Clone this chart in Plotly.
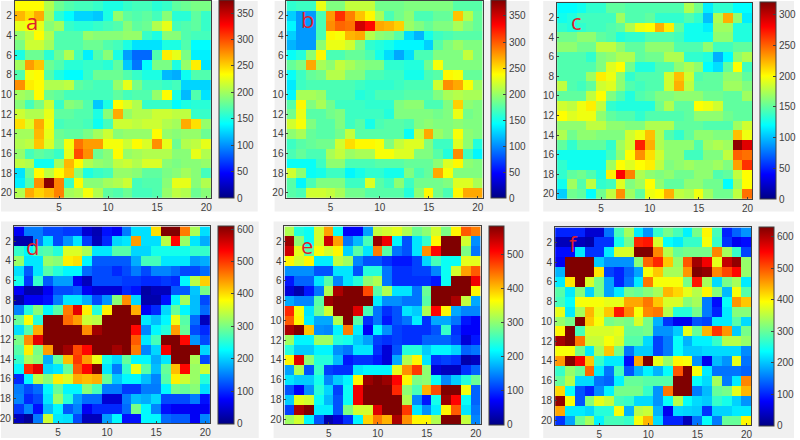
import plotly.graph_objects as go

W, H = 800, 440

panel_a = [
[235,235,235,205,180,170,165,165,160,150,150,160,165,165,155,160,175,180,185,185],
[260,245,265,200,155,140,125,125,120,150,195,175,170,175,165,190,155,155,175,160],
[225,230,225,190,200,160,155,155,160,165,170,190,175,180,205,225,165,170,175,160],
[195,210,235,205,170,170,170,195,190,190,190,195,195,160,150,190,190,170,165,165],
[185,215,215,200,170,170,170,180,180,170,165,150,130,130,130,150,150,170,140,140],
[150,180,180,155,180,205,165,135,170,190,150,105,85,85,170,240,225,185,135,135],
[200,270,255,180,170,155,155,160,160,155,175,120,90,140,185,185,150,195,240,130],
[170,230,235,170,150,140,140,160,180,180,180,170,160,150,150,115,110,145,170,170],
[275,240,235,205,205,210,175,170,165,165,195,225,185,165,165,160,165,125,125,125],
[200,195,235,180,175,165,165,165,165,165,175,165,170,170,195,235,150,115,170,130],
[190,165,185,215,160,190,185,170,120,150,235,220,205,160,160,160,140,150,155,155],
[215,205,205,225,175,175,170,170,150,190,265,195,205,205,215,215,210,210,160,160],
[245,220,265,230,165,170,170,165,145,165,215,215,210,215,215,205,200,265,245,195],
[200,200,260,225,180,175,175,185,200,215,190,195,195,195,235,195,190,195,195,180],
[205,210,255,220,185,230,285,270,270,230,230,215,235,220,275,225,180,205,210,225],
[195,165,175,170,160,225,300,275,180,190,235,195,200,205,205,205,190,190,225,205],
[210,205,145,145,200,260,235,205,195,190,210,215,205,220,220,190,185,190,190,195],
[130,180,235,210,235,255,190,150,160,165,195,195,190,175,175,185,190,200,190,165],
[135,170,275,370,280,160,235,190,190,200,205,215,165,170,170,190,225,225,190,205],
[205,265,250,260,280,200,205,230,205,175,170,180,165,165,170,195,210,205,180,190],
]
panel_b = [
[160,165,165,230,190,190,215,215,215,185,185,185,190,190,190,190,190,175,175,175],
[125,105,105,170,275,315,285,260,240,205,170,185,195,170,170,180,180,260,210,180],
[140,105,105,170,280,295,290,350,330,270,265,255,200,190,180,190,190,205,190,180],
[125,105,105,170,240,235,265,270,210,195,190,175,130,115,150,165,170,175,175,175],
[115,105,105,195,230,230,220,190,160,155,150,140,140,140,125,175,190,200,190,190],
[145,155,195,240,170,170,180,180,170,150,130,110,130,170,170,190,190,190,215,190],
[180,190,270,205,195,215,205,195,190,190,160,160,155,155,185,235,190,190,190,190],
[145,165,180,185,210,210,190,190,170,170,165,165,150,150,170,175,240,235,180,180],
[135,165,170,170,170,170,170,165,160,160,160,165,170,170,170,220,280,270,235,200],
[140,205,205,200,170,170,170,155,160,170,170,170,175,175,175,190,205,210,205,205],
[175,240,190,205,185,165,165,165,160,160,160,190,195,195,170,170,190,255,195,190],
[185,230,175,175,185,190,165,165,165,165,155,190,190,190,190,185,190,230,185,190],
[220,235,190,175,175,190,165,175,150,170,175,175,170,190,195,190,190,195,190,190],
[195,205,180,175,175,185,215,175,175,175,175,175,145,215,270,200,190,235,195,190],
[165,175,180,185,185,220,250,240,240,235,190,215,225,225,190,165,165,225,195,155],
[170,180,170,170,205,215,200,205,205,235,235,225,225,190,190,175,155,280,165,140],
[145,145,145,165,195,195,170,170,170,175,175,175,180,180,180,195,225,240,195,190],
[220,195,145,150,165,165,140,150,160,160,150,150,190,170,180,270,235,190,190,190],
[175,140,170,190,190,190,165,165,225,175,165,195,165,185,185,185,190,225,225,205],
[175,170,220,220,215,205,185,185,175,175,175,175,155,195,240,185,170,240,270,270],
]
panel_c = [
[120,120,125,135,135,150,150,145,145,145,145,145,145,175,155,115,135,135,120,120],
[125,130,140,140,140,140,170,145,145,150,135,135,135,145,135,100,175,225,165,115],
[135,130,135,140,140,145,150,175,195,200,225,205,150,125,125,115,170,170,130,130],
[155,155,165,165,150,145,130,135,135,145,145,145,140,125,125,125,165,165,130,130],
[165,165,155,155,180,180,165,150,150,165,165,165,145,145,145,165,140,140,150,150],
[145,145,145,135,160,165,175,175,150,155,155,175,175,135,135,130,95,120,165,175],
[145,145,145,145,160,190,200,155,130,130,145,145,165,175,165,120,110,150,200,140],
[145,145,145,170,205,195,165,135,145,145,145,185,220,185,145,150,150,165,165,150],
[180,145,140,150,185,190,165,145,140,145,145,185,225,180,150,150,150,170,170,160],
[150,150,150,180,200,160,145,130,145,150,160,160,165,165,165,155,155,150,150,170],
[185,180,195,205,180,135,130,130,130,130,155,175,150,150,200,195,185,150,150,150],
[200,190,195,195,165,150,145,145,135,145,145,145,145,150,165,165,165,155,150,150],
[165,165,165,180,180,165,165,160,160,175,175,175,150,150,150,145,145,145,170,185],
[175,155,165,165,160,160,160,185,195,220,175,145,135,150,165,165,160,160,220,195],
[150,135,150,150,150,135,170,185,270,225,175,165,165,165,145,170,175,170,315,290],
[125,125,125,125,125,140,165,200,235,210,185,165,165,140,140,160,160,180,250,245],
[135,125,125,125,125,170,200,190,200,205,180,160,165,170,165,165,170,160,230,265],
[135,150,155,145,130,205,280,240,175,165,160,165,155,155,165,165,145,150,180,200],
[125,170,145,180,135,140,190,160,170,200,165,150,150,165,165,155,155,120,170,200],
[105,155,150,120,155,180,235,170,150,195,200,225,180,175,195,170,155,155,180,245],
]
panel_d = [
[70,150,150,120,120,110,110,50,30,85,70,150,210,210,400,610,610,460,330,210],
[25,25,150,215,120,165,215,110,35,100,205,215,440,210,210,340,530,320,215,180],
[260,225,270,280,250,360,360,330,215,215,280,280,205,205,240,240,240,240,260,260],
[320,215,215,320,310,390,400,225,130,130,130,130,180,270,270,215,215,215,170,180],
[210,130,215,280,250,225,225,140,120,120,100,120,150,120,155,155,140,120,120,140],
[240,110,260,130,170,170,70,35,120,120,120,110,110,100,100,110,100,225,340,410],
[70,25,25,70,120,120,130,70,50,50,50,100,85,20,35,35,130,130,195,300],
[25,70,70,85,150,215,215,180,120,165,310,450,205,25,25,85,225,330,190,120],
[155,250,310,225,280,460,550,390,250,390,610,610,430,70,100,205,290,225,190,140],
[290,380,250,610,610,470,440,350,340,610,610,610,610,215,190,225,370,280,140,35],
[210,280,430,610,610,610,610,450,590,610,610,610,530,155,225,250,440,290,120,100],
[300,450,550,610,610,610,610,610,610,610,610,610,480,215,270,610,610,530,165,120],
[280,390,300,440,610,590,490,530,610,610,590,610,460,155,205,540,610,610,610,205],
[260,330,310,180,290,420,500,440,370,240,205,290,225,225,180,215,610,610,330,120],
[225,510,550,205,215,290,480,530,610,215,150,260,370,280,190,290,420,530,320,350],
[100,225,340,310,390,360,430,420,430,290,195,225,225,190,155,280,390,350,320,250],
[150,120,140,225,290,225,225,310,270,150,150,110,110,150,150,225,300,290,310,210],
[155,100,120,215,320,250,170,140,140,50,50,150,190,180,205,120,120,120,150,85],
[110,155,85,190,225,130,155,70,100,100,100,140,300,225,155,85,70,70,70,70],
[35,15,150,350,215,210,120,35,35,170,225,85,85,225,225,140,130,130,70,155],
]
panel_e = [
[320,240,225,340,420,225,70,70,165,330,340,350,320,280,300,340,290,370,460,440],
[570,300,225,340,540,420,140,180,260,570,520,215,120,205,250,370,585,585,340,155],
[540,350,270,360,340,370,195,270,205,440,270,140,120,205,430,510,585,585,290,140],
[370,340,370,210,210,330,310,150,120,120,100,85,85,110,195,260,225,225,350,350],
[155,155,155,120,120,205,205,120,240,240,140,100,100,110,110,150,225,340,420,460],
[85,130,130,205,270,150,205,240,300,320,140,100,100,100,100,85,225,585,585,520],
[50,25,85,140,320,560,585,585,470,270,320,205,205,140,280,585,585,585,585,370],
[170,150,150,270,570,585,585,585,585,210,155,155,140,140,270,585,585,560,330,170],
[490,360,205,280,340,585,585,530,260,140,100,120,205,190,320,510,370,170,150,150],
[460,370,210,170,170,320,585,270,100,140,85,120,140,210,100,170,170,140,85,70],
[560,585,400,155,150,215,440,210,70,215,155,110,100,100,100,120,250,100,70,70],
[310,215,215,310,310,240,230,190,165,110,100,110,100,100,130,130,130,110,50,85],
[240,190,190,215,215,155,140,205,205,100,50,120,240,240,190,215,215,195,130,140],
[370,530,300,240,240,180,85,100,100,85,50,170,320,370,205,100,110,100,25,35],
[165,320,120,250,110,100,100,205,215,215,215,350,430,480,300,50,35,35,100,130],
[205,190,190,230,150,190,215,370,570,585,570,510,370,290,300,225,150,190,240,280],
[120,70,155,240,195,110,225,520,585,585,585,490,300,260,410,470,585,585,360,130],
[190,350,340,225,180,120,225,520,585,585,585,585,320,150,85,230,570,510,225,130],
[110,560,585,210,210,120,290,340,340,530,585,585,480,205,155,210,370,460,205,140],
[310,340,215,120,25,50,100,215,390,440,410,560,430,370,370,320,585,585,330,150],
]
panel_f = [
[100,100,100,50,50,150,280,340,225,170,270,310,280,230,310,400,280,100,140,170],
[35,35,35,25,110,110,250,310,530,540,370,240,225,270,270,390,270,110,70,85],
[85,85,225,110,110,225,370,370,632,632,470,350,300,310,310,310,470,340,270,120],
[70,632,632,632,205,170,170,170,320,490,530,430,330,500,610,560,380,590,620,330],
[190,632,632,632,410,120,100,140,180,390,430,340,340,460,632,620,470,510,550,330],
[225,410,632,370,310,180,100,150,225,480,390,390,390,310,540,340,215,310,340,225],
[290,225,320,210,310,180,225,310,300,320,340,440,420,380,350,400,320,195,390,290],
[280,240,390,390,390,380,380,450,450,480,430,370,370,320,340,155,85,240,460,430],
[380,225,340,440,380,430,540,470,390,470,480,350,260,260,310,155,100,225,320,320],
[330,310,632,430,390,310,320,310,370,310,190,110,70,70,130,120,225,225,290,215],
[400,632,280,370,370,370,380,300,300,310,170,170,205,380,300,440,520,460,205,310],
[610,632,480,360,360,390,370,290,290,215,120,155,240,190,230,230,270,350,350,330],
[390,390,310,225,340,430,310,150,205,205,120,155,240,205,205,215,215,215,215,165],
[460,632,560,430,270,225,225,85,450,632,380,330,400,390,170,70,195,170,380,150],
[270,330,300,490,225,150,280,130,190,230,190,240,500,632,390,225,150,150,150,140],
[300,350,215,215,150,140,230,300,300,290,290,290,632,632,240,215,340,155,225,470],
[420,240,130,100,165,230,310,310,310,270,170,480,632,632,155,195,300,310,380,440],
[620,390,130,320,380,360,280,270,215,215,170,240,350,240,215,205,270,250,210,170],
[450,225,225,215,260,260,390,190,350,360,190,70,215,210,205,110,210,210,225,225],
[110,180,300,340,230,280,280,270,390,440,215,100,100,35,150,240,155,300,300,400],
]

cells = list(range(1, 21))
x_ticks = [5, 10, 15, 20]
y_ticks = list(range(2, 21, 2))

jet = [[0, "rgb(0,0,131)"], [0.125, "rgb(0,0,255)"], [0.375, "rgb(0,255,255)"],
       [0.625, "rgb(255,255,0)"], [0.875, "rgb(255,0,0)"], [1, "rgb(128,0,0)"]]

# label, data, zmax, colorbar ticks, plot box px (x0,x1,y0,y1), bar x0,x1, grey box, label pos
panels = [
 ("a", panel_a, 374, list(range(0, 351, 50)), (14, 212, 0, 198), (220, 235), (0, 259, 0, 212), (31, 20)),
 ("b", panel_b, 380, list(range(0, 351, 50)), (288, 486, 0, 198), (494, 509), (276, 533, 0, 212), (309, 18)),
 ("c", panel_c, 320, list(range(0, 301, 50)), (561, 758, 2, 199), (766, 782), (547, 800, 0, 212), (581, 20)),
 ("d", panel_d, 610, list(range(0, 601, 100)), (13, 211, 227, 425), (219, 235), (0, 260, 222, 440), (32, 247)),
 ("e", panel_e, 585, list(range(0, 501, 100)), (286, 484, 227, 426), (492, 507), (275, 533, 222, 440), (309, 246)),
 ("f", panel_f, 632, list(range(0, 601, 100)), (559, 757, 228, 427), (765, 780), (547, 800, 222, 440), (578, 244)),
]

fig = go.Figure()
shapes, annotations, axes = [], [], {}
font = dict(family="Liberation Sans, Arial, sans-serif", size=10, color="#404040")

for i, (name, data, zmax, cticks, box, bar, grey, lab) in enumerate(panels, start=1):
    x0, x1, y0, y1 = box
    fig.add_trace(go.Heatmap(
        z=data, x=cells, y=cells, zmin=0, zmax=zmax, colorscale=jet,
        xaxis=f"x{i}", yaxis=f"y{i}", xgap=0, ygap=0,
        colorbar=dict(
            x=bar[0] / W, xanchor="left", xpad=0, ypad=0,
            y=1 - (y0 + y1) / 2 / H, yanchor="middle",
            len=(y1 - y0), lenmode="pixels",
            thickness=bar[1] - bar[0], thicknessmode="pixels",
            tickvals=cticks, ticks="inside", ticklen=3, tickcolor="#404040",
            tickfont=font, outlinecolor="#404040", outlinewidth=1),
    ))
    common = dict(showgrid=False, zeroline=False, showline=True, mirror=True,
                  linecolor="#404040", linewidth=1, ticks="inside", ticklen=2,
                  tickcolor="#404040", tickfont=font)
    axes[f"xaxis{i}"] = {**common, "domain": [x0 / W, x1 / W], "range": [0.5, 20.5],
                         "tickvals": x_ticks, "anchor": f"y{i}"}
    axes[f"yaxis{i}"] = {**common, "domain": [1 - y1 / H, 1 - y0 / H], "range": [20.5, 0.5],
                         "tickvals": y_ticks, "anchor": f"x{i}"}
    shapes.append(dict(type="rect", xref="paper", yref="paper", layer="below",
                       x0=grey[0] / W, x1=grey[1] / W, y0=1 - grey[3] / H, y1=1 - grey[2] / H,
                       fillcolor="#f0f0f0", line_width=0))
    annotations.append(dict(text=name, xref="paper", yref="paper", showarrow=False,
                            x=lab[0] / W, y=1 - lab[1] / H, xanchor="center", yanchor="middle",
                            font=dict(family="Open Sans, sans-serif", size=22, color="#e0202a")))

fig.update_layout(width=W, height=H, margin=dict(l=0, r=0, t=0, b=0), autosize=False,
                  paper_bgcolor="white", plot_bgcolor="rgba(0,0,0,0)", showlegend=False,
                  shapes=shapes, annotations=annotations, **axes)
fig.write_html("out.html", config={"displayModeBar": False},
               post_script="document.body.style.margin='0';document.body.style.overflow='hidden';")
